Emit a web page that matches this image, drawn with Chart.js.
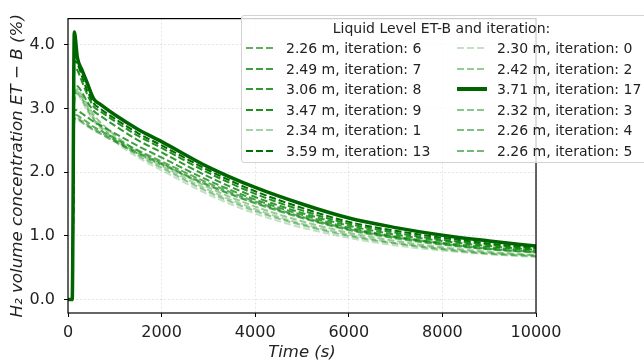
<!DOCTYPE html>
<html>
<head>
<meta charset="utf-8">
<script src="https://cdn.jsdelivr.net/npm/chart.js@4.4.1/dist/chart.umd.min.js"></script>
<style>
  html, body { margin:0; padding:0; background:#fff; }
  #wrap { position:relative; width:644px; height:364px; overflow:hidden; }
  #legend { position:absolute; left:241px; top:15px; width:420px; height:146px;
    border:1px solid #d3d3d3; border-radius:3px; background:rgba(255,255,255,0.8);
    font-family:"DejaVu Sans", sans-serif; font-size:14px; color:#222; }
  #legend .title { position:absolute; left:0; width:399px; top:3px; text-align:center; line-height:18px; }
  #legend .item { position:absolute; height:18px; line-height:18px; white-space:nowrap; }
  #legend svg { position:absolute; left:0; top:0; }
  #legend .lbl { position:absolute; left:41px; top:0; }
</style>
</head>
<body>
<div id="wrap">
  <canvas id="c" width="644" height="364"></canvas>
  <div id="legend"></div>
</div>
<script>
// ---- data ----
const times = [0, 90, 135, 200, 300, 400, 550, 700, 1000, 1500, 2000, 3000, 4000, 5000, 6000, 7000, 8000, 9000, 10000];
const xTicks = [0, 2000, 4000, 6000, 8000, 10000];
const yTicks = [0, 1, 2, 3, 4];

const it6  = [0,0,2.90,2.89,2.84,2.79,2.71,2.65,2.53,2.34,2.17,1.83,1.54,1.30,1.11,0.98,0.88,0.80,0.75];
const it7  = [0,0,2.98,2.97,2.92,2.87,2.79,2.73,2.61,2.41,2.23,1.87,1.57,1.33,1.13,0.99,0.89,0.82,0.77];
const it8  = [0,0,3.35,3.35,3.25,3.12,2.96,2.88,2.73,2.50,2.31,1.93,1.61,1.36,1.16,1.02,0.92,0.84,0.78];
const it9  = [0,0,3.65,3.60,3.42,3.24,3.03,2.95,2.80,2.57,2.38,1.99,1.66,1.40,1.19,1.05,0.94,0.86,0.80];
const it1  = [0,0,3.18,3.27,3.17,3.04,2.86,2.74,2.54,2.29,2.10,1.72,1.42,1.19,1.02,0.89,0.80,0.73,0.69];
const it13 = [0,0,3.75,3.70,3.50,3.30,3.08,2.99,2.84,2.61,2.42,2.03,1.70,1.44,1.22,1.08,0.97,0.88,0.81];
const it0  = [0,0,3.12,3.22,3.11,2.98,2.80,2.68,2.48,2.23,2.03,1.65,1.35,1.13,0.97,0.85,0.77,0.71,0.67];
const it2  = [0,0,3.20,3.30,3.20,3.08,2.90,2.78,2.58,2.33,2.14,1.76,1.46,1.23,1.05,0.92,0.82,0.75,0.70];
const it17 = [0,0,4.20,3.80,3.60,3.42,3.15,3.06,2.90,2.67,2.48,2.08,1.76,1.50,1.28,1.13,1.01,0.92,0.84];
const it3  = [0,0,3.15,3.24,3.14,3.01,2.83,2.71,2.51,2.26,2.07,1.69,1.39,1.17,1.00,0.88,0.79,0.72,0.68];
const it4  = [0,0,2.86,2.85,2.80,2.75,2.68,2.62,2.50,2.31,2.14,1.80,1.52,1.29,1.10,0.97,0.87,0.79,0.74];
const it5  = [0,0,2.84,2.83,2.78,2.73,2.66,2.60,2.48,2.29,2.12,1.79,1.51,1.28,1.09,0.96,0.86,0.79,0.74];

const labels = ["2.26 m, iteration: 6","2.49 m, iteration: 7","3.06 m, iteration: 8","3.47 m, iteration: 9",
  "2.34 m, iteration: 1","3.59 m, iteration: 13","2.30 m, iteration: 0","2.42 m, iteration: 2",
  "3.71 m, iteration: 17","2.32 m, iteration: 3","2.26 m, iteration: 4","2.26 m, iteration: 5"];
const seriesList = [it6, it7, it8, it9, it1, it13, it0, it2, it17, it3, it4, it5];
const alphas = [0.63, 0.75, 0.8, 0.87, 0.35, 1.0, 0.24, 0.41, 1.0, 0.45, 0.5, 0.55];
const solidIndex = 8;

function colorFor(i) {
  if (i === solidIndex) return '#006400';
  if (i === 5) return 'rgb(0,112,0)';
  return 'rgba(0,128,0,' + alphas[i] + ')';
}

const datasets = seriesList.map((s, i) => ({
  label: labels[i],
  data: s.map((v, k) => ({ x: times[k], y: v })),
  borderColor: colorFor(i),
  backgroundColor: colorFor(i),
  borderWidth: i === solidIndex ? 3.5 : 2,
  borderDash: i === solidIndex ? [] : [7, 3],
  pointRadius: 0,
  fill: false,
  cubicInterpolationMode: 'monotone',
  order: i === solidIndex ? 0 : 1
}));

const framePlugin = {
  id: 'frame',
  afterDraw(chart) {
    const a = chart.chartArea, ctx = chart.ctx;
    ctx.save();
    ctx.strokeStyle = '#000';
    ctx.lineWidth = 1.2;
    ctx.strokeRect(a.left, a.top, a.right - a.left, a.bottom - a.top);
    ctx.restore();
  }
};

const font = { family: '"DejaVu Sans", sans-serif', size: 16 };
const gridOpts = { color: 'rgba(0,0,0,0.1)', tickColor: '#000', tickLength: 4, tickBorderDash: [], drawTicks: true };
const borderOpts = { display: false, dash: [2, 2] };
new Chart(document.getElementById('c'), {
  type: 'line',
  data: { datasets },
  plugins: [framePlugin],
  options: {
    responsive: false,
    animation: false,
    devicePixelRatio: 1,
    layout: { padding: { top: 8, right: 108, left: 0, bottom: 0 } },
    plugins: { legend: { display: false }, tooltip: { enabled: false } },
    scales: {
      x: {
        type: 'linear', min: 0, max: 10000,
        afterBuildTicks: s => { s.ticks = xTicks.map(v => ({ value: v })); },
        afterFit: s => { s.height = 51; },
        grid: gridOpts,
        border: borderOpts,
        ticks: { color: '#222', font, padding: 6, maxRotation: 0, callback: v => String(v) },
        title: { display: true, text: 'Time (s)', color: '#222', font: { ...font, size: 16.5, style: 'italic' }, padding: { top: 0, bottom: 1 } }
      },
      y: {
        type: 'linear', min: -0.21, max: 4.41,
        afterBuildTicks: s => { s.ticks = yTicks.map(v => ({ value: v })); },
        afterFit: s => { s.width = 68; },
        grid: gridOpts,
        border: borderOpts,
        ticks: { color: '#222', font, padding: 9, callback: v => Number(v).toFixed(1) },
        title: { display: true, text: 'H\u2082 volume concentration ET \u2212 B (%)', color: '#222', font: { ...font, size: 16.7, style: 'italic' }, padding: { top: 8, bottom: 0 } }
      }
    }
  }
});

// ---- legend (HTML overlay) ----
const leg = document.getElementById('legend');
const t = document.createElement('div');
t.className = 'title';
t.textContent = 'Liquid Level ET-B and iteration:';
leg.appendChild(t);
const rowY = [23, 44, 64, 85, 105, 126];
labels.forEach((lab, i) => {
  const col = Math.floor(i / 6), row = i % 6;
  const d = document.createElement('div');
  d.className = 'item';
  d.style.left = (col === 0 ? 3 : 214) + 'px';
  d.style.top = rowY[row] + 'px';
  const solid = i === solidIndex;
  d.innerHTML = '<svg width="32" height="18"><line x1="1" y1="9" x2="31" y2="9" stroke="' + colorFor(i) +
    '" stroke-width="' + (solid ? 4 : 2) + '"' + (solid ? '' : ' stroke-dasharray="7,3"') + '/></svg>';
  const l = document.createElement('span');
  l.className = 'lbl';
  l.textContent = lab;
  d.appendChild(l);
  leg.appendChild(d);
});
</script>
</body>
</html>
